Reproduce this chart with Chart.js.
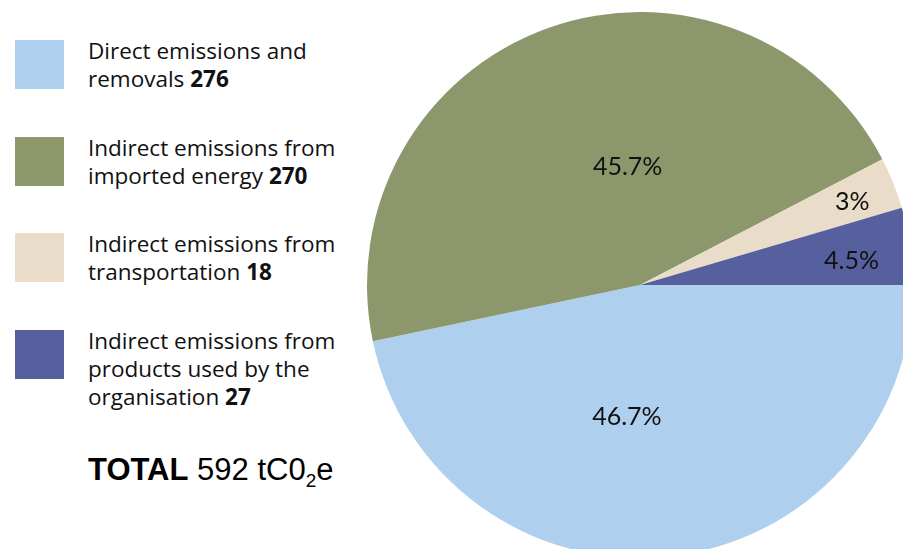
<!DOCTYPE html>
<html>
<head>
<meta charset="utf-8">
<script src="https://cdn.jsdelivr.net/npm/chart.js@4"></script>
<style>
    html, body { margin: 0; padding: 0; width: 903px; height: 549px; overflow: hidden; background: #fff; }
    #wrap { position: relative; width: 903px; height: 549px; }
    #pieBox { position: absolute; left: 367px; top: 12px; width: 546px; height: 546px; }
    .item { position: absolute; left: 15px; }
    .swatch { position: absolute; left: 0; top: 0; width: 49px; height: 49px; }
    .label { position: absolute; left: 73px; top: -3px; width: 290px; font-family: "Open Sans", sans-serif; font-size: 22.5px; line-height: 28px; color: #111; }
    .label b { font-weight: 700; }
    #total { position: absolute; left: 88px; top: 452px; font-family: "Liberation Sans", Arial, sans-serif; font-size: 31px; color: #000; white-space: nowrap; }
    #total sub { font-size: 19px; vertical-align: -7px; line-height: 0; }
</style>
</head>
<body>
<div id="wrap">
    <div id="legend"></div>
    <div id="total"><b>TOTAL</b> 592 tC0<sub>2</sub>e</div>
    <div id="pieBox"><canvas id="emissionsChart" width="546" height="546"></canvas></div>
</div>
<script>
// Emission sources (tCO2e)
const categories = [
    'Direct emissions and removals',
    'Indirect emissions from imported energy',
    'Indirect emissions from transportation',
    'Indirect emissions from products used by the organisation'
];
const legendLines = [
    ['Direct emissions and', 'removals'],
    ['Indirect emissions from', 'imported energy'],
    ['Indirect emissions from', 'transportation'],
    ['Indirect emissions from', 'products used by the', 'organisation']
];
const emissionValues = [276, 270, 18, 27];
const percentLabels = ['46.7%', '45.7%', '3%', '4.5%'];
const sliceColors = ['#aed0ee', '#8c986b', '#e9dcc9', '#56609e'];

// Build the legend on the left
function buildLegend() {
    const legend = document.getElementById('legend');
    const tops = [40, 137, 233, 330];
    legend.innerHTML = categories.map((cat, i) => {
        const lines = legendLines[i].slice();
        lines[lines.length - 1] += ' <b>' + emissionValues[i] + '</b>';
        return `
        <div class="item" style="top:${tops[i]}px">
            <div class="swatch" style="background:${sliceColors[i]}"></div>
            <div class="label">${lines.join('<br>')}</div>
        </div>`;
    }).join('');
}

// Draw percentage text inside the slices
const sliceLabels = {
    id: 'sliceLabels',
    afterDatasetsDraw(chart, args, opts) {
        const ctx = chart.ctx;
        const meta = chart.getDatasetMeta(0);
        ctx.save();
        ctx.font = opts.font;
        ctx.fillStyle = opts.color;
        ctx.textAlign = 'center';
        ctx.textBaseline = 'middle';
        meta.data.forEach((arc, i) => {
            const p = arc.getProps(['x', 'y', 'startAngle', 'endAngle', 'outerRadius']);
            const mid = (p.startAngle + p.endAngle) / 2 + opts.angleShift[i] * Math.PI / 180;
            const r = p.outerRadius * opts.radiusFraction[i];
            ctx.fillText(percentLabels[i], p.x + Math.cos(mid) * r, p.y + Math.sin(mid) * r);
        });
        ctx.restore();
    }
};

let emissionsChart = null;

function loadEmissionsChart() {
    const ctx = document.getElementById('emissionsChart');
    emissionsChart = new Chart(ctx, {
        type: 'pie',
        data: {
            labels: categories,
            datasets: [{
                data: emissionValues,
                backgroundColor: sliceColors,
                borderWidth: 0
            }]
        },
        options: {
            responsive: false,
            animation: false,
            rotation: 90,
            layout: { padding: 0 },
            plugins: {
                legend: { display: false },
                tooltip: { enabled: false },
                sliceLabels: {
                    font: '25px Lato, sans-serif',
                    color: '#111',
                    radiusFraction: [0.487, 0.436, 0.835, 0.78],
                    angleShift: [11.6, 13.7, 0.6, 1.6]
                }
            }
        },
        plugins: [sliceLabels]
    });
}

buildLegend();
loadEmissionsChart();
</script>
</body>
</html>
